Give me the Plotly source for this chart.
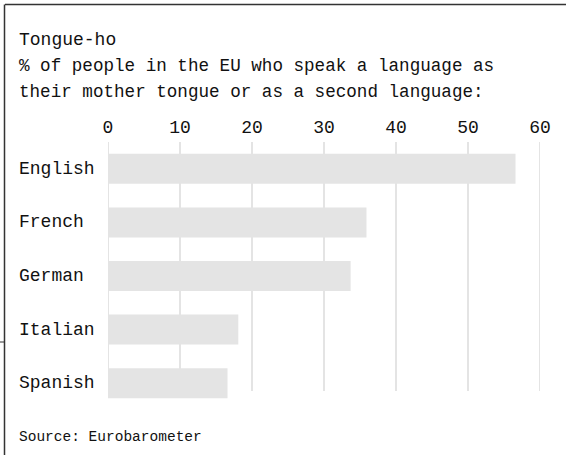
import plotly.graph_objects as go

languages = ["English", "French", "German", "Italian", "Spanish"]
shares = [56.6, 35.9, 33.7, 18.1, 16.6]
tick_values = [0, 10, 20, 30, 40, 50, 60]

title = "Tongue-ho"
subtitle_lines = ["% of people in the EU who speak a language as",
                  "their mother tongue or as a second language:"]
source = "Source: Eurobarometer"

W, H = 566, 455
L, R, T, B = 108, 26, 142, 45
PW, PH = W - L - R, H - T - B
FONT = "Liberation Mono"
GREY = "#e4e4e4"


def px(x):
    return (x - L) / PW


def py(y):
    return (H - B - y) / PH


fig = go.Figure(go.Bar(
    x=shares, y=languages, orientation="h",
    marker=dict(color=GREY, line=dict(width=0)),
    hoverinfo="skip",
))

shapes = []
for v in tick_values:
    shapes.append(dict(type="line", xref="x", yref="paper", x0=v, x1=v,
                       y0=py(391), y1=py(142), layer="below",
                       line=dict(color=GREY, width=2)))
# frame lines
shapes.append(dict(type="line", xref="paper", yref="paper", x0=px(5), x1=px(566),
                   y0=py(4.5), y1=py(4.5), line=dict(color="#333", width=1.5)))
shapes.append(dict(type="line", xref="paper", yref="paper", x0=px(4.5), x1=px(4.5),
                   y0=py(4.5), y1=py(456), line=dict(color="#333", width=1.5)))
shapes.append(dict(type="line", xref="paper", yref="paper", x0=px(0), x1=px(4.5),
                   y0=py(342), y1=py(342), line=dict(color="#333", width=1)))

annotations = []
annotations.append(dict(text=title, xref="paper", yref="paper", x=px(17), y=py(40),
                        xanchor="left", yanchor="middle", showarrow=False,
                        font=dict(family=FONT, size=18, color="#111")))
for i, line in enumerate(subtitle_lines):
    annotations.append(dict(text=line, xref="paper", yref="paper", x=px(17),
                            y=py(66 + 26 * i), xanchor="left", yanchor="middle",
                            showarrow=False,
                            font=dict(family=FONT, size=17.6, color="#111")))
for lang in languages:
    annotations.append(dict(text=lang, xref="paper", yref="y", x=px(17), y=lang,
                            xanchor="left", yanchor="middle", showarrow=False,
                            font=dict(family=FONT, size=18, color="#111")))
annotations.append(dict(text=source, xref="paper", yref="paper", x=px(17), y=py(437),
                        xanchor="left", yanchor="middle", showarrow=False,
                        font=dict(family=FONT, size=14.5, color="#111")))

fig.update_layout(
    width=W, height=H,
    margin=dict(l=L, r=R, t=T, b=B, autoexpand=False),
    paper_bgcolor="white", plot_bgcolor="white",
    showlegend=False,
    bargap=0.44,
    xaxis=dict(side="top", range=[0, 60], tickvals=tick_values,
               showgrid=False, zeroline=False, showline=False, ticks="",
               tickfont=dict(family=FONT, size=18, color="#111"),
               ticklabelstandoff=4, fixedrange=True),
    yaxis=dict(categoryorder="array", categoryarray=languages,
               range=[4.5, -0.5], showticklabels=False, showgrid=False,
               zeroline=False, showline=False, ticks="", fixedrange=True),
    shapes=shapes,
    annotations=annotations,
)

fig.write_html(
    "out.html",
    config={"displayModeBar": False},
    post_script="document.body.style.margin='0';document.body.style.overflow='hidden';",
)
